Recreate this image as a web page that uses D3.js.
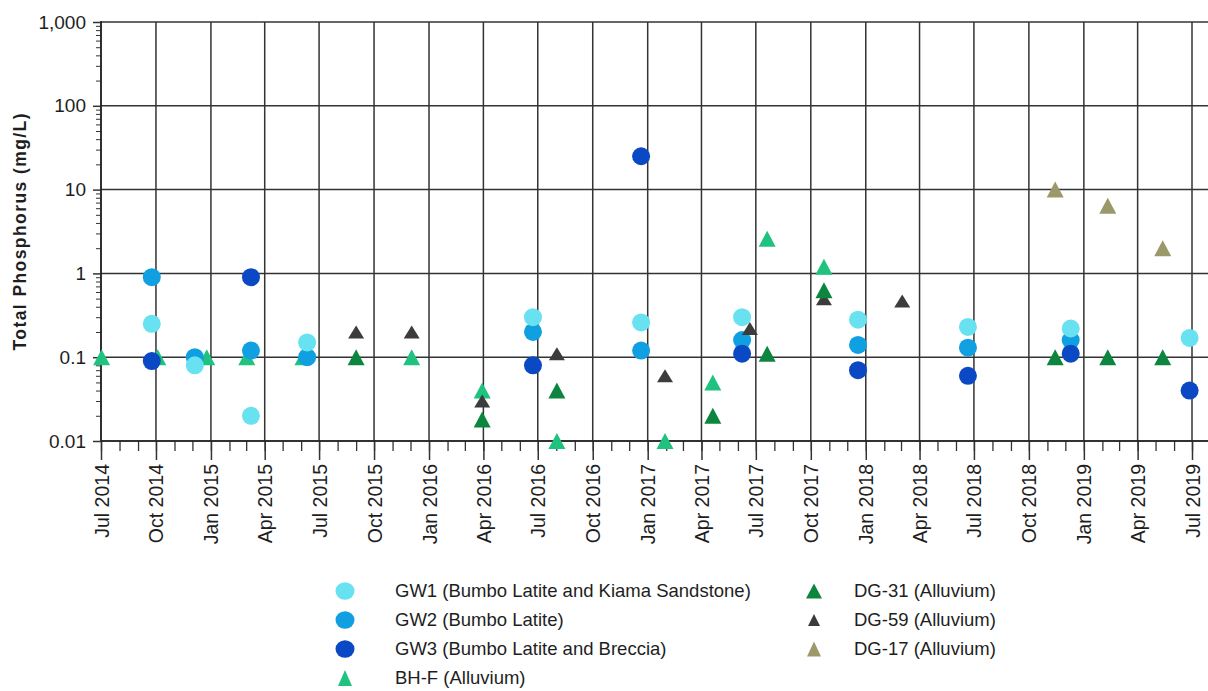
<!DOCTYPE html>
<html>
<head>
<meta charset="utf-8">
<script src="https://cdn.jsdelivr.net/npm/d3@7"></script>
<style>
  html, body { margin: 0; padding: 0; background: #fff; }
  svg { display: block; }
  text { font-family: "Liberation Sans", Arial, sans-serif; fill: #1e1e1e; }
</style>
</head>
<body>
<svg id="chart" width="1208" height="691"></svg>
<script>
// Total phosphorus (mg/L) per monitoring bore, sampling date -> value
const gw1 = [["2014-09-24",0.25],["2014-12-05",0.08],["2015-03-09",0.02],["2015-06-11",0.15],
             ["2016-06-23",0.3],["2016-12-21",0.26],["2017-06-08",0.3],["2017-12-19",0.28],
             ["2018-06-21",0.23],["2018-12-10",0.22],["2019-06-27",0.17]];
const gw2 = [["2014-09-24",0.9],["2014-12-05",0.1],["2015-03-09",0.12],["2015-06-11",0.1],
             ["2016-06-23",0.2],["2016-12-21",0.12],["2017-06-08",0.16],["2017-12-19",0.14],
             ["2018-06-21",0.13],["2018-12-10",0.16]];
const gw3 = [["2014-09-24",0.09],["2015-03-09",0.9],["2016-06-23",0.08],["2016-12-21",25],
             ["2017-06-08",0.11],["2017-12-19",0.07],["2018-06-21",0.06],["2018-12-10",0.11],
             ["2019-06-27",0.04]];
const bhf  = [["2014-07-02",0.1],["2014-10-04",0.1],["2014-12-25",0.1],["2015-03-02",0.1],
              ["2015-06-04",0.1],["2015-12-03",0.1],["2016-03-30",0.04],["2016-08-02",0.01],
              ["2017-01-30",0.01],["2017-04-20",0.05],["2017-07-20",2.6],["2017-10-23",1.2]];
const dg31 = [["2015-09-01",0.1],["2016-03-30",0.018],["2016-08-02",0.04],["2017-04-20",0.02],
              ["2017-07-20",0.11],["2017-10-23",0.63],["2018-11-14",0.1],["2019-02-10",0.1],
              ["2019-05-13",0.1]];
const dg59 = [["2015-09-01",0.2],["2015-12-03",0.2],["2016-03-30",0.03],["2016-08-02",0.11],
              ["2017-01-30",0.06],["2017-06-21",0.22],["2017-10-23",0.5],["2018-03-03",0.47]];
const dg17 = [["2018-11-14",10],["2019-02-10",6.4],["2019-05-13",2]];

const seriesLabels = ["GW1 (Bumbo Latite and Kiama Sandstone)","GW2 (Bumbo Latite)",
  "GW3 (Bumbo Latite and Breccia)","BH-F (Alluvium)","DG-31 (Alluvium)","DG-59 (Alluvium)","DG-17 (Alluvium)"];
const yTickValues = [0.01, 0.1, 1, 10, 100, 1000];
const xDomain = ["2014-07-01", "2019-07-01"];

const parse = d3.utcParse("%Y-%m-%d");

// Triangle centred on its bounding box (w = width, h = height)
function triangleType(w, h) {
  return { draw(ctx) {
    ctx.moveTo(0, -h / 2); ctx.lineTo(w / 2, h / 2); ctx.lineTo(-w / 2, h / 2); ctx.closePath();
  }};
}

const series = [
  { key: "GW1", data: gw1, color: "#68e1f1", shape: "circle" },
  { key: "GW2", data: gw2, color: "#10a0e2", shape: "circle" },
  { key: "GW3", data: gw3, color: "#0a48c4", shape: "circle" },
  { key: "BH-F", data: bhf, color: "#1fc37f", shape: "tri", w: 17, h: 16 },
  { key: "DG-31", data: dg31, color: "#0c863e", shape: "tri", w: 17, h: 16 },
  { key: "DG-59", data: dg59, color: "#3c3c3c", shape: "tri", w: 16, h: 13 },
  { key: "DG-17", data: dg17, color: "#9b996a", shape: "tri", w: 17, h: 16 }
];
series.forEach((s, i) => s.label = seriesLabels[i]);

const svg = d3.select("#chart");
const plotLeft = 101, plotRight = 1192, plotTop = 22, plotBottom = 441, gridRight = 1208;

const x = d3.scaleUtc().domain(xDomain.map(parse)).range([plotLeft, plotRight]);
const y = d3.scaleLog().domain([0.01, 1000]).range([plotBottom, plotTop]);

const gridColor = "#333";

// horizontal decade grid
svg.append("g").selectAll("line").data(yTickValues).join("line")
  .attr("x1", plotLeft).attr("x2", gridRight)
  .attr("y1", d => y(d)).attr("y2", d => y(d))
  .attr("stroke", gridColor).attr("stroke-width", 1.5);

// vertical quarterly grid
const quarters = x.ticks(d3.utcMonth.every(3));
svg.append("g").selectAll("line").data(quarters).join("line")
  .attr("x1", d => x(d)).attr("x2", d => x(d))
  .attr("y1", plotTop).attr("y2", plotBottom)
  .attr("stroke", gridColor).attr("stroke-width", 1.5);

// y axis: minor log ticks
const yMinor = [];
[0.01, 0.1, 1, 10, 100].forEach(d => { for (let k = 2; k <= 9; k++) yMinor.push(d * k); });
svg.append("g").attr("transform", `translate(${plotLeft},0)`)
  .call(d3.axisLeft(y).tickValues(yMinor).tickSize(5).tickFormat(""))
  .call(g => g.select(".domain").remove())
  .call(g => g.selectAll("line").attr("stroke", "#333").attr("stroke-width", 1));

// y axis: decades
svg.append("g").attr("transform", `translate(${plotLeft},0)`)
  .call(d3.axisLeft(y).tickValues(yTickValues).tickFormat(d3.format(",~g")).tickSize(8).tickPadding(7))
  .call(g => g.select(".domain").remove())
  .call(g => g.selectAll("line").attr("stroke", gridColor).attr("stroke-width", 1.5))
  .call(g => g.selectAll("text").attr("font-size", 19).attr("font-family", "Liberation Sans, Arial, sans-serif").attr("fill", "#1e1e1e"));

// x axis: monthly minor ticks
svg.append("g").attr("transform", `translate(0,${plotBottom})`)
  .call(d3.axisBottom(x).ticks(d3.utcMonth.every(1)).tickSize(10).tickFormat(""))
  .call(g => g.select(".domain").remove())
  .call(g => g.selectAll("line").attr("stroke", "#333").attr("stroke-width", 1.3));

// x axis: quarterly ticks with rotated labels
svg.append("g").attr("transform", `translate(0,${plotBottom})`)
  .call(d3.axisBottom(x).ticks(d3.utcMonth.every(3)).tickFormat(d3.utcFormat("%b %Y")).tickSize(19))
  .call(g => g.select(".domain").remove())
  .call(g => g.selectAll("line").attr("stroke", gridColor).attr("stroke-width", 1.5))
  .call(g => g.selectAll("text")
      .attr("font-size", 19.5).attr("font-family", "Liberation Sans, Arial, sans-serif").attr("fill", "#1e1e1e")
      .attr("transform", "rotate(-90)")
      .attr("x", -23).attr("y", 0).attr("dy", "0.36em")
      .attr("text-anchor", "end"));

// axis lines
svg.append("line").attr("x1", plotLeft).attr("x2", plotLeft).attr("y1", plotTop - 1).attr("y2", plotBottom)
  .attr("stroke", "#222").attr("stroke-width", 1.6);
svg.append("line").attr("x1", plotLeft).attr("x2", gridRight).attr("y1", plotBottom).attr("y2", plotBottom)
  .attr("stroke", "#222").attr("stroke-width", 1.6);

// y axis title
svg.append("text")
  .attr("transform", "translate(20,232) rotate(-90)")
  .attr("text-anchor", "middle").attr("dominant-baseline", "central")
  .attr("font-family", "Open Sans, Noto Sans, sans-serif").attr("font-weight", 700).attr("font-size", 17.5)
  .attr("textLength", 237).attr("lengthAdjust", "spacing")
  .text("Total Phosphorus (mg/L)");

// data points (drawn in layered order)
const drawOrder = ["BH-F", "GW2", "GW3", "GW1", "DG-59", "DG-31", "DG-17"];
const marks = svg.append("g");
drawOrder.forEach(k => {
  const s = series.find(d => d.key === k);
  const g = marks.append("g");
  if (s.shape === "circle") {
    g.selectAll("circle").data(s.data).join("circle")
      .attr("cx", d => x(parse(d[0]))).attr("cy", d => y(d[1]))
      .attr("r", 9).attr("fill", s.color);
  } else {
    const sym = d3.symbol().type(triangleType(s.w, s.h));
    g.selectAll("path").data(s.data).join("path")
      .attr("transform", d => `translate(${x(parse(d[0]))},${y(d[1])})`)
      .attr("d", sym).attr("fill", s.color);
  }
});

// legend
const legendPos = [
  { mx: 345, tx: 395, y: 591 }, { mx: 345, tx: 395, y: 620 }, { mx: 345, tx: 395, y: 649 },
  { mx: 345, tx: 395, y: 678 }, { mx: 814, tx: 854, y: 591 }, { mx: 814, tx: 854, y: 620 },
  { mx: 814, tx: 854, y: 649 }
];
const legendTri = { "BH-F": [14, 16], "DG-31": [16, 15], "DG-59": [12, 12], "DG-17": [14, 15] };
const legend = svg.append("g");
series.forEach((s, i) => {
  const p = legendPos[i];
  const item = legend.append("g");
  if (s.shape === "circle") {
    item.append("ellipse").attr("cx", p.mx).attr("cy", p.y).attr("rx", 9.5).attr("ry", 8.8).attr("fill", s.color);
  } else {
    const [w, h] = legendTri[s.key];
    item.append("path").attr("transform", `translate(${p.mx},${p.y})`)
      .attr("d", d3.symbol().type(triangleType(w, h))).attr("fill", s.color);
  }
  item.append("text").attr("x", p.tx).attr("y", p.y).attr("dy", "0.35em")
    .attr("font-size", 18.5).text(s.label);
});
</script>
</body>
</html>
